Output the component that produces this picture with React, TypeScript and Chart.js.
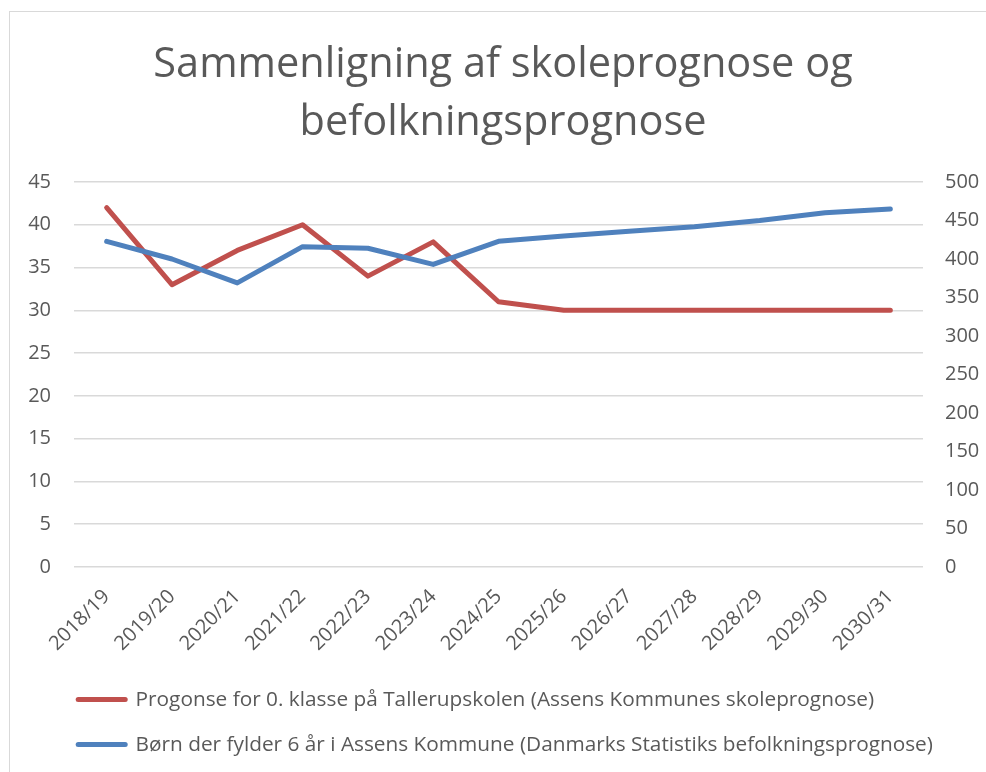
import React, { useEffect, useRef } from "react";
import { Chart, registerables } from "chart.js";

Chart.register(...registerables);

const categories = [
  "2018/19", "2019/20", "2020/21", "2021/22", "2022/23", "2023/24", "2024/25",
  "2025/26", "2026/27", "2027/28", "2028/29", "2029/30", "2030/31",
];
const schoolForecast = [42, 33, 37, 40, 34, 38, 31, 30, 30, 30, 30, 30, 30];
const populationForecast = [423, 400, 369, 416, 414, 393, 423, 430, 436, 442, 450, 460, 465];
const seriesLabels = [
  "Progonse for 0. klasse på Tallerupskolen (Assens Kommunes skoleprognose)",
  "Børn der fylder 6 år i Assens Kommune (Danmarks Statistiks befolkningsprognose)",
];
const titleLines = ["Sammenligning af skoleprognose og", "befolkningsprognose"];
const leftAxis = { min: 0, max: 45, step: 5 };
const rightAxis = { min: 0, max: 500, step: 50 };

const RED = "#C0504D";
const BLUE = "#4F81BD";
const TEXT = "#595959";
const GRID = "#D9D9D9";
const FONT = "'Open Sans'";

const legendPlacer = {
  id: "legendPlacer",
  afterLayout(chart: any) {
    const l = chart.legend;
    if (l) {
      l.left = 44;
    }
  },
};

export default function App() {
  const ref = useRef<HTMLCanvasElement>(null);

  useEffect(() => {
    if (!ref.current) return;
    const chart = new Chart(ref.current, {
      type: "line",
      data: {
        labels: categories,
        datasets: [
          {
            label: seriesLabels[0],
            data: schoolForecast,
            yAxisID: "y",
            borderColor: RED,
            backgroundColor: RED,
            borderWidth: 5,
            borderCapStyle: "round",
            borderJoinStyle: "round",
            pointRadius: 0,
            pointHoverRadius: 0,
            tension: 0,
            order: 1,
          },
          {
            label: seriesLabels[1],
            data: populationForecast,
            yAxisID: "y1",
            borderColor: BLUE,
            backgroundColor: BLUE,
            borderWidth: 5,
            borderCapStyle: "round",
            borderJoinStyle: "round",
            pointRadius: 0,
            pointHoverRadius: 0,
            tension: 0,
            order: 0,
          },
        ],
      },
      options: {
        responsive: false,
        animation: false,
        events: [],
        layout: { padding: { left: 0, right: 0, top: 0, bottom: 19 } },
        plugins: {
          title: {
            display: true,
            text: titleLines,
            color: TEXT,
            font: { family: FONT, size: 41.5, weight: "normal", lineHeight: 58 / 41.5 },
            padding: { top: 24, bottom: 30 },
          },
          legend: {
            position: "bottom",
            align: "start",
            labels: {
              usePointStyle: true,
              pointStyle: "line",
              pointStyleWidth: 47,
              color: TEXT,
              font: { family: FONT, size: 20.8 },
              padding: 24.2,
              sort: (a: any, b: any) => a.datasetIndex - b.datasetIndex,
              generateLabels: (chart: any) =>
                Chart.defaults.plugins.legend.labels
                  .generateLabels(chart)
                  .map((item: any) => ({
                    ...item,
                    strokeStyle: item.datasetIndex === 0 ? RED : BLUE,
                    fillStyle: item.datasetIndex === 0 ? RED : BLUE,
                    lineWidth: 5,
                    lineCap: "round",
                  })),
            },
          },
          tooltip: { enabled: false },
        },
        scales: {
          x: {
            offset: true,
            grid: { display: false, drawTicks: false },
            border: { display: false },
            ticks: {
              color: TEXT,
              font: { family: FONT, size: 20 },
              maxRotation: 45,
              minRotation: 45,
              autoSkip: false,
              padding: 18,
            },
            afterFit: (s: any) => {
              s.height = 98;
            },
          },
          y: {
            position: "left",
            min: leftAxis.min,
            max: leftAxis.max,
            ticks: {
              stepSize: leftAxis.step,
              color: TEXT,
              font: { family: FONT, size: 20 },
              padding: 23,
            },
            grid: { color: GRID, lineWidth: 1.5, drawTicks: false },
            border: { display: false },
            afterFit: (s: any) => {
              s.width = 64;
            },
          },
          y1: {
            position: "right",
            min: rightAxis.min,
            max: rightAxis.max,
            ticks: {
              stepSize: rightAxis.step,
              color: TEXT,
              font: { family: FONT, size: 20 },
              padding: 22,
            },
            grid: { display: false, drawTicks: false },
            border: { display: false },
            afterFit: (s: any) => {
              s.width = 73;
            },
          },
        },
      },
      plugins: [legendPlacer],
    });
    return () => chart.destroy();
  }, []);

  return (
    <>
      <div
        style={{
          position: "fixed",
          left: 9,
          top: 11,
          width: 2000,
          height: 2000,
          border: "1px solid #D9D9D9",
          background: "#fff",
        }}
      />
      <canvas
        ref={ref}
        width={986}
        height={772}
        style={{ position: "fixed", left: 10, top: 12, width: 986, height: 772 }}
      />
    </>
  );
}
